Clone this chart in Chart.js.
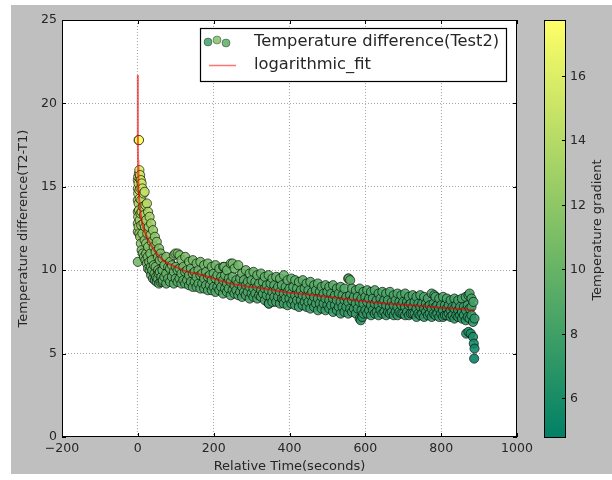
<!DOCTYPE html>
<html><head><meta charset="utf-8">
<script src="https://cdn.jsdelivr.net/npm/chart.js@4/dist/chart.umd.min.js"></script>
<style>html,body{margin:0;padding:0;background:#fff}</style>
</head><body>
<canvas id="c" width="612" height="480" style="display:block;width:612px;height:480px"></canvas>
<script>
// ---------- data ----------
const earlyTime = [0,0,0,0,0,0,0, 1,1,1, 2,2,2,2, 3,3,3, 4,4,4, 5,5,5, 6,6, 7,7, 8,8, 9,9, 10,10,10, 12,12, 13,13, 15,15, 16,16, 18,18, 19, 20,20, 22,22, 24,24, 25, 27,27,27, 29, 31,31, 33,33, 35,35, 37,37, 40,40, 42,42, 45,45, 47,47, 50,50, 53,53, 56,56, 58,58, 60,60];
const earlyTemp = [10.5,12.3,12.8,13.5,14.2,14.9,15.4, 13.2,14.6,15.6, 17.8,12.6,14.0,15.2, 17.8,13.6,15.8, 12.2,14.8,16.0, 13.0,14.3,15.5, 12.0,15.7, 13.4,14.9, 11.6,15.4, 12.7,14.2, 11.2,13.5,15.2, 12.2,14.9, 11.0,13.8, 12.8,14.6, 10.8,13.3, 11.8,14.7, 12.6, 10.6,13.9, 11.6,13.0, 10.4,14.0, 12.2, 10.1,11.4,13.5, 12.6, 10.0,13.2, 11.0,12.1, 9.7,12.8, 10.6,11.7, 9.5,12.4, 10.3,11.4, 9.4,12.0, 10.2,11.1, 9.3,11.7, 10.0,10.8, 9.2,11.3, 9.9,10.6, 9.3,11.0];
const earlyDarkTime = [22,26,30,34,38,44,48,52,55,62,66];
const earlyDarkTemp = [11.0,10.8,10.5,10.2,10.0,9.8,9.6,9.5,9.8,9.6,9.4];

const bandTime = [65,75,85,95,105,115,125,135,145,155,165,175,185,195,205,215,225,235,245,255,265,275,285,295,305,315,325,335,345,355,365,375,385,395,405,415,425,435,445,455,465,475,485,495,505,515,525,535,545,555,565,575,585,595,605,615,625,635,645,655,665,675,685,695,705,715,725,735,745,755,765,775,785,795,805,815,825,835,845,855,865,875];
const bandUpper = [10.7,10.8,10.5,10.9,11.0,10.6,10.8,10.5,10.6,10.4, 10.5,10.3,10.4,10.2,10.3,10.1,10.2,10.0,10.4,10.1, 10.3,9.8,10.0,9.8,9.9,9.7,9.8,9.6,9.7,9.5, 9.6,9.5,9.7,9.4,9.5,9.4,9.3,9.4,9.2,9.3, 9.1,9.2,9.0,9.1,9.0,9.1,8.9,9.0,8.9,9.5, 8.9,8.8,8.9,8.7,8.8,8.7,8.8,8.6,8.7,8.6, 8.7,8.5,8.6,8.5,8.6,8.4,8.5,8.4,8.5,8.4, 8.3,8.6,8.4,8.3,8.4,8.3,8.2,8.3,8.2,8.3, 8.4,8.6];
const bandMiddle = [10.0,9.8,10.1,9.9,10.0,9.8,9.9,9.7,9.8,9.6, 9.7,9.5,9.6,9.4,9.5,9.3,9.4,9.2,9.3,9.1, 9.2,9.0,9.1,9.0,8.9,9.0,8.8,8.9,8.8,8.7, 8.8,8.7,8.6,8.7,8.6,8.5,8.6,8.5,8.4,8.5, 8.4,8.3,8.4,8.3,8.2,8.3,8.2,8.1,8.2,8.1, 8.2,8.0,8.1,8.0,8.1,7.9,8.0,7.9,8.0,7.9, 7.8,7.9,7.8,7.9,7.8,7.9,7.8,7.7,7.8,7.7, 7.8,7.7,7.8,7.7,7.6,7.7,7.6,7.7,7.6,7.5, 7.6,7.7];
const bandLower = [9.3,9.2,9.3,9.2,9.3,9.2,9.2,9.1,9.0,9.0, 8.9,8.9,8.8,8.8,8.7,8.8,8.6,8.7,8.5,8.6, 8.5,8.4,8.5,8.3,8.4,8.3,8.4,8.2,8.0,8.1, 8.1,8.0,8.0,7.9,8.0,7.9,7.8,7.9,7.8,7.7, 7.8,7.6,7.7,7.6,7.7,7.5,7.6,7.4,7.5,7.4, 7.5,7.4,7.1,7.4,7.4,7.3,7.4,7.3,7.4,7.3, 7.4,7.3,7.3,7.4,7.3,7.3,7.4,7.2,7.3,7.2, 7.3,7.2,7.3,7.2,7.2,7.3,7.2,7.1,7.2,7.1, 7.0,7.1];

const offsetTime = [70,80,90,100,110,120,130,140,150,160,170,180,190,200,210,220,230,240,250,260,270,280,290,300,310,320,330,340,350,360,370,380,390,400,410,420,430,440,450,460,470,480,490,500,510,520,530,540,550,560,570,580,590,600,610,620,630,640,650,660,670,680,690,700,710,720,730,740,750,760,770,780,790,800,810,820,830,840,850,860,870,880];
const offsetUpper = [10.3,10.2,10.3,10.2,10.1,10.2,10.0,10.1,9.9,10.0, 9.8,9.9,9.7,9.8,9.7,9.6,9.7,9.5,9.6,9.4, 9.5,9.4,9.3,9.4,9.3,9.2,9.3,9.1,9.2,9.1, 9.0,9.1,9.0,8.9,9.0,8.9,8.8,8.9,8.8,8.7, 8.8,8.7,8.6,8.7,8.6,8.5,8.6,8.5,8.4,8.5, 8.4,8.4,8.3,8.4,8.3,8.3,8.2,8.3,8.2,8.2, 8.1,8.2,8.1,8.1,8.1,8.0,8.1,8.0,8.0,8.0, 7.9,8.0,7.9,7.9,7.9,7.9,7.8,7.9,7.8,7.8, 7.9,7.8];
const offsetLower = [9.6,9.5,9.6,9.5,9.5,9.4,9.4,9.3,9.3,9.2, 9.2,9.1,9.1,9.0,9.0,9.0,8.9,8.9,8.8,8.8, 8.7,8.7,8.7,8.6,8.6,8.5,8.6,8.5,8.4,8.4, 8.4,8.3,8.3,8.3,8.2,8.2,8.2,8.1,8.1,8.1, 8.0,8.0,8.0,7.9,7.9,7.9,7.8,7.8,7.8,7.7, 7.7,7.7,7.6,7.6,7.6,7.6,7.5,7.6,7.5,7.5, 7.5,7.5,7.5,7.4,7.5,7.4,7.4,7.4,7.4,7.5, 7.4,7.4,7.4,7.4,7.3,7.4,7.3,7.3,7.3,7.3, 7.2,7.3];

const outlierTime = [99,110,228,250,346,384,556,560,588,592,782,872,880,885,884,888];
const outlierTemp = [11.0,10.9,10.2,10.4,8.0,8.2,9.5,9.4,7.0,7.2,8.5,8.5,8.3,8.1,6.9,7.1];

const endTime = [866,872,878,884,886,888,887];
const endTemp = [6.2,6.3,6.2,6.0,5.6,5.3,4.7];

const fitTime = [0.007,0.02,0.05,0.15,0.5,1,2,4,7,10,15,20,30,40,50,66,80,100,130,155,200,243,280,321,360,400,450,506,560,637,690,750,800,850,888];
const fitTemp = [21.7,20.4,19.3,18.0,16.6,15.8,14.9,14.1,13.4,13.0,12.5,12.2,11.7,11.3,11.0,10.6,10.4,10.2,9.9,9.8,9.5,9.2,9.05,8.93,8.8,8.65,8.55,8.4,8.25,8.03,7.95,7.85,7.75,7.68,7.6];

const xTicks = [-200,0,200,400,600,800,1000];
const yTicks = [0,5,10,15,20,25];
const colorbarTicks = [6,8,10,12,14,16];
const colorMin = 4.76, colorMax = 17.74;

// ---------- build points ----------
function pairs(ts, vs){ return ts.map((t,i)=>({x:t,y:vs[i]})); }
const scatterPoints = [].concat(
  pairs(earlyTime, earlyTemp), pairs(earlyDarkTime, earlyDarkTemp),
  pairs(bandTime, bandUpper), pairs(offsetTime, offsetUpper),
  pairs(bandTime, bandMiddle), pairs(offsetTime, offsetLower),
  pairs(bandTime, bandLower),
  pairs(outlierTime, outlierTemp),
  pairs(endTime, endTemp)
).sort((a,b)=>a.x-b.x);
const fitPoints = pairs(fitTime, fitTemp);

function summer(v, a){
  let n = (v - colorMin) / (colorMax - colorMin);
  n = Math.max(0, Math.min(1, n));
  const r = Math.round(255*n), g = Math.round(255*(0.5+0.5*n)), b = 102;
  return `rgba(${r},${g},${b},${a})`;
}

const FONT = '"DejaVu Sans", "Liberation Sans", sans-serif';
const TXT = '#262626';

const decor = {
  id: 'decor',
  beforeDraw(chart){
    const ctx = chart.ctx, a = chart.chartArea;
    ctx.save();
    ctx.fillStyle = '#fff'; ctx.fillRect(0,0,612,480);
    ctx.fillStyle = '#bfbfbf'; ctx.fillRect(11,5,601,469);
    ctx.fillStyle = '#fff'; ctx.fillRect(a.left,a.top,a.right-a.left,a.bottom-a.top);
    ctx.restore();
  },
  afterDraw(chart){
    const ctx = chart.ctx, a = chart.chartArea;
    const xs = chart.scales.x, ys = chart.scales.y;
    ctx.save();
    ctx.strokeStyle = '#000'; ctx.lineWidth = 1;
    ctx.strokeRect(a.left+0.5, a.top+0.5, a.right-a.left-1, a.bottom-a.top-1);
    ctx.beginPath();
    xTicks.forEach(t=>{ const px = Math.round(xs.getPixelForValue(t))+0.5;
      ctx.moveTo(px,a.bottom); ctx.lineTo(px,a.bottom-4);
      ctx.moveTo(px,a.top); ctx.lineTo(px,a.top+4); });
    yTicks.forEach(t=>{ const py = Math.round(ys.getPixelForValue(t))+0.5;
      ctx.moveTo(a.left,py); ctx.lineTo(a.left+4,py);
      ctx.moveTo(a.right,py); ctx.lineTo(a.right-4,py); });
    ctx.stroke();

    ctx.fillStyle = TXT; ctx.font = '13px ' + FONT;
    ctx.textAlign = 'center'; ctx.textBaseline = 'middle';
    ctx.fillText('Relative Time(seconds)', (a.left+a.right)/2, 467);
    ctx.save(); ctx.translate(24, (a.top+a.bottom)/2); ctx.rotate(-Math.PI/2);
    ctx.fillText('Temperature difference(T2-T1)', 0, 0); ctx.restore();

    // legend
    ctx.fillStyle = '#fff'; ctx.fillRect(200,28,306,53);
    ctx.strokeStyle = '#000'; ctx.lineWidth = 1.2;
    ctx.strokeRect(200.5,28.5,306,53);
    const dots = [[208,42,8.0],[217,40,11.5],[226,43,9.5]];
    dots.forEach(d=>{ ctx.beginPath(); ctx.arc(d[0],d[1],4,0,Math.PI*2);
      ctx.fillStyle = summer(d[2],0.85); ctx.fill();
      ctx.strokeStyle='rgba(0,0,0,0.6)'; ctx.lineWidth=0.6; ctx.stroke(); });
    ctx.strokeStyle = 'rgba(255,0,0,0.55)'; ctx.lineWidth = 1.5;
    ctx.beginPath(); ctx.moveTo(209,65.5); ctx.lineTo(236,65.5); ctx.stroke();
    ctx.fillStyle = TXT; ctx.font = '16.3px ' + FONT; ctx.textAlign = 'left';
    ctx.fillText('Temperature difference(Test2)', 254, 42);
    ctx.fillText('logarithmic_fit', 254, 65);

    // colorbar
    const cbL = 544, cbR = 566, cbT = 20, cbB = 438;
    const g = ctx.createLinearGradient(0,cbB,0,cbT);
    g.addColorStop(0, summer(colorMin,1)); g.addColorStop(1, summer(colorMax,1));
    ctx.fillStyle = g; ctx.fillRect(cbL,cbT,cbR-cbL,cbB-cbT);
    ctx.strokeStyle = '#000'; ctx.lineWidth = 1;
    ctx.strokeRect(cbL+0.5,cbT+0.5,cbR-cbL-1,cbB-cbT-1);
    ctx.font = '12.5px ' + FONT; ctx.fillStyle = TXT; ctx.textAlign='left';
    colorbarTicks.forEach(v=>{
      const py = Math.round(cbB - (v-colorMin)/(colorMax-colorMin)*(cbB-cbT))+0.5;
      ctx.beginPath(); ctx.moveTo(cbR-4,py); ctx.lineTo(cbR,py);
      ctx.strokeStyle='#000'; ctx.stroke();
      ctx.fillText(String(v), 570, py);
    });
    ctx.font = '13px ' + FONT; ctx.textAlign='center';
    ctx.save(); ctx.translate(598, 230); ctx.rotate(-Math.PI/2);
    ctx.fillText('Temperature gradient', 0, 0); ctx.restore();
    ctx.restore();
  }
};

new Chart(document.getElementById('c'), {
  data: {
    datasets: [
      { type:'line', label:'logarithmic_fit', data: fitPoints, order: 0,
        borderColor:'rgba(235,0,0,0.62)', borderWidth:2, pointRadius:0, tension:0, fill:false },
      { type:'scatter', label:'Temperature difference(Test2)', data: scatterPoints, order: 1,
        pointRadius:4.6, borderWidth:0.8, borderColor:'rgba(0,0,0,0.8)',
        backgroundColor: c => summer(c.raw ? c.raw.y : 8, 0.88) }
    ]
  },
  options: {
    responsive:false, animation:false, devicePixelRatio:1, events:[],
    layout:{ padding:{ top:20, right:95, bottom:0, left:0 } },
    plugins:{ legend:{display:false}, tooltip:{enabled:false} },
    scales:{
      x:{ type:'linear', min:-200, max:1000,
        afterBuildTicks: s => { s.ticks = xTicks.map(v=>({value:v})); },
        afterFit: s => { s.height = 43; },
        grid:{ color: c => (c.tick && (c.tick.value===-200 || c.tick.value===1000)) ? 'rgba(0,0,0,0)' : 'rgba(0,0,0,0.35)', lineWidth:1, drawTicks:false },
        border:{ display:false, dash:[1,2] },
        ticks:{ color:TXT, font:{family:FONT, size:12.5}, padding:4, maxRotation:0,
          callback: v => String(v).replace('-', '\u2212') } },
      y:{ type:'linear', min:0, max:25,
        afterBuildTicks: s => { s.ticks = yTicks.map(v=>({value:v})); },
        afterFit: s => { s.width = 62; },
        grid:{ color: c => (c.tick && (c.tick.value===0 || c.tick.value===25)) ? 'rgba(0,0,0,0)' : 'rgba(0,0,0,0.35)', lineWidth:1, drawTicks:false },
        border:{ display:false, dash:[1,2] },
        ticks:{ color:TXT, font:{family:FONT, size:12.5}, padding:5 } }
    }
  },
  plugins:[decor]
});
</script>
</body></html>
